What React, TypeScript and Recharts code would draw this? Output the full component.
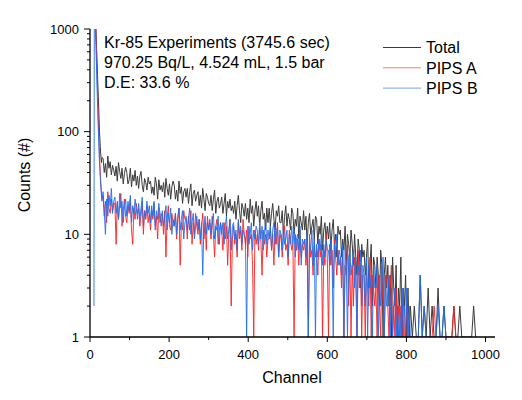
import { Line, LineChart, XAxis, YAxis } from "recharts";

// channel grid: single channels through the peak, every 3rd channel in the body, every 5th in the tail
const channels = [
    9, 10, 11, 12, 13, 14, 15, 16, 17, 18, 19, 20, 21, 22, 23, 24, 25, 26, 27, 28, 29, 30,
    33, 36, 39, 42, 45, 48, 51, 54, 57, 60,
    63, 66, 69, 72, 75, 78, 81, 84, 87, 90,
    93, 96, 99, 102, 105, 108, 111, 114, 117, 120,
    123, 126, 129, 132, 135, 138, 141, 144, 147, 150,
    153, 156, 159, 162, 165, 168, 171, 174, 177, 180,
    183, 186, 189, 192, 195, 198, 201, 204, 207, 210,
    213, 216, 219, 222, 225, 228, 231, 234, 237, 240,
    243, 246, 249, 252, 255, 258, 261, 264, 267, 270,
    273, 276, 279, 282, 285, 288, 291, 294, 297, 300,
    303, 306, 309, 312, 315, 318, 321, 324, 327, 330,
    333, 336, 339, 342, 345, 348, 351, 354, 357, 360,
    363, 366, 369, 372, 375, 378, 381, 384, 387, 390,
    393, 396, 399, 402, 405, 408, 411, 414, 417, 420,
    423, 426, 429, 432, 435, 438, 441, 444, 447, 450,
    453, 456, 459, 462, 465, 468, 471, 474, 477, 480,
    483, 486, 489, 492, 495, 498, 501, 504, 507, 510,
    513, 516, 519, 522, 525, 528, 531, 534, 537, 540,
    543, 546, 549, 552, 555, 558, 561, 564, 567, 570,
    573, 576, 579, 582, 585, 588, 591, 594, 597, 600,
    603, 606, 609, 612, 615, 618, 621, 624, 627, 630,
    633, 636, 639, 642, 645, 648, 651, 654, 657, 660,
    663, 666, 669, 672, 675, 678, 681, 684, 687, 690,
    693, 696, 699, 702, 705, 708, 711, 714, 717, 720,
    723, 726, 729, 732, 735, 738, 741, 744, 747, 750,
    753, 756, 759, 762, 765, 768, 771, 774, 777, 780,
    783, 786, 789, 792, 795, 798, 801, 804, 807, 810,
    815, 820, 825, 830, 835, 840, 845, 850, 855, 860,
    865, 870, 875, 880, 885, 890, 895, 900, 905, 910,
    915, 920, 925, 930, 935, 940, 945, 950, 955, 960,
    965, 970, 975, 980, 985, 990, 995, 1000, 1005, 1010,
    1015, 1020,
];

const total = [
    null, null, null, null, 3000, 1800, 1000, 780, 600, 470, 360, 280, 220, 170, 130, 100, 85, 72, 62, 55, 50, 56,
    55, 40, 49, 36, 58, 44, 51, 38, 47, 42,
    37, 46, 33, 50, 41, 35, 44, 31, 39, 45,
    40, 31, 34, 44, 29, 38, 33, 42, 30, 37,
    28, 37, 41, 30, 26, 35, 32, 27, 36, 31,
    33, 25, 29, 24, 36, 31, 22, 34, 27, 30,
    26, 32, 23, 35, 28, 24, 31, 22, 29, 33,
    30, 22, 27, 21, 33, 25, 29, 20, 26, 28,
    23, 28, 20, 26, 31, 19, 25, 27, 21, 24,
    26, 19, 24, 18, 28, 22, 17, 25, 23, 20,
    19, 24, 17, 22, 27, 16, 21, 23, 18, 20,
    23, 16, 20, 25, 15, 21, 18, 22, 17, 19,
    16, 21, 14, 19, 24, 17, 13, 20, 18, 15,
    20, 14, 18, 13, 22, 16, 19, 12, 17, 21,
    15, 19, 12, 17, 21, 14, 16, 11, 18, 13,
    18, 12, 16, 20, 14, 11, 17, 15, 19, 13,
    13, 17, 10, 15, 19, 12, 16, 14, 11, 18,
    16, 10, 14, 12, 18, 9, 15, 13, 11, 17,
    11, 15, 8, 13, 16, 10, 12, 14, 9, 15,
    14, 8, 12, 10, 15, 7, 11, 13, 9, 12,
    9, 13, 7, 11, 14, 8, 10, 6, 12, 10,
    11, 6, 9, 7, 12, 5, 10, 8, 6, 11,
    8, 5, 10, 6, 4, 9, 7, 3, 8, 6,
    7, 4, 6, 9, 3, 5, 8, 2, 6, 5,
    3, 6, 4, 2, 7, 5, 1, 4, 6, 3,
    5, 2, 4, 1, 6, 3, 2, 5, 1, 3,
    2, 6, 1, 3, 2, 4, 1, 3, 1, 2,
    1, 2, 1, 1, 4, 1, 2, 1, 3, 1,
    2, 1, 1, 3, 1, 1, 2, 1, 1, 1,
    1, 2, 1, 1, 2, 1, 1, 1, 1, 1,
    1, 2, 1, null, null, null, null, null, null, null,
    null, null,
];

const pipsA = [
    null, null, null, null, 2500, 1500, 900, 650, 470, 340, 250, 180, 135, 100, 78, 60, 48, 40, 34, 29, 25, 22,
    24, 15, 21, 13, 26, 18, 16, 22, 17, 20,
    20, 8, 21, 14, 19, 25, 12, 17, 22, 15,
    13, 19, 16, 22, 11, 8, 18, 14, 20, 16,
    18, 12, 15, 21, 10, 17, 14, 19, 13, 16,
    11, 17, 14, 20, 12, 15, 9, 18, 13, 16,
    15, 10, 17, 6, 14, 19, 12, 11, 16, 13,
    12, 16, 9, 14, 18, 5, 13, 11, 17, 14,
    14, 9, 15, 11, 17, 8, 13, 10, 16, 12,
    10, 14, 8, 12, 16, 9, 13, 7, 15, 11,
    13, 9, 15, 10, 6, 12, 14, 8, 11, 13,
    11, 7, 13, 9, 12, 5, 10, 14, 2, 9,
    12, 8, 10, 6, 13, 9, 11, 7, 14, 10,
    8, 11, 6, 12, 9, 10, 5, 1, 11, 8,
    10, 7, 12, 9, 4, 11, 8, 10, 6, 9,
    9, 12, 7, 10, 5, 11, 8, 13, 6, 9,
    10, 6, 9, 12, 7, 8, 5, 11, 9, 7,
    8, 1, 10, 7, 9, 5, 11, 6, 8, 7,
    9, 5, 8, 1, 10, 6, 7, 4, 9, 6,
    7, 4, 9, 6, 8, 1, 7, 5, 10, 6,
    1, 8, 5, 7, 3, 9, 6, 4, 7, 5,
    6, 3, 7, 1, 5, 4, 8, 2, 6, 1,
    5, 2, 6, 4, 1, 7, 3, 5, 1, 4,
    4, 1, 5, 3, 2, 6, 1, 4, 3, 2,
    3, 1, 4, 2, 1, 5, 2, 1, 3, 4,
    2, 1, 3, 5, 1, 2, 1, 3, 1, 2,
    1, 2, 1, 3, 1, 1, 2, 1, 1, 1,
    1, 1, 1, 1, 1, 1, 1, 1, 1, 1,
    1, 2, 1, 1, 1, 1, 1, 1, 1, 1,
    1, 2, 1, null, null, null, null, null, null, null,
    null, null, null, null, null, null, null, null, null, null,
    null, null,
];

const pipsB = [
    null, 2, 3000, 2200, 1500, 1000, 700, 500, 360, 260, 190, 140, 105, 80, 62, 50, 42, 36, 31, 27, 24, 21,
    26, 17, 10, 22, 15, 24, 19, 28, 16, 21,
    23, 16, 20, 14, 25, 18, 21, 13, 19, 22,
    15, 21, 17, 24, 13, 19, 16, 22, 18, 14,
    20, 14, 18, 23, 12, 17, 15, 21, 16, 19,
    13, 19, 15, 21, 11, 17, 14, 20, 16, 12,
    17, 12, 15, 19, 11, 16, 13, 18, 10, 14,
    12, 16, 10, 15, 18, 11, 14, 17, 9, 13,
    15, 11, 14, 18, 10, 13, 16, 9, 12, 15,
    11, 14, 9, 13, 4, 12, 15, 10, 13, 11,
    14, 10, 13, 16, 9, 12, 11, 15, 8, 13,
    10, 13, 8, 12, 15, 9, 11, 14, 7, 12,
    13, 9, 11, 7, 14, 10, 12, 8, 11, 10,
    9, 1, 12, 8, 10, 13, 7, 11, 9, 12,
    11, 8, 13, 9, 12, 7, 10, 14, 8, 11,
    9, 12, 7, 11, 13, 8, 10, 12, 6, 11,
    10, 7, 12, 8, 9, 11, 6, 10, 8, 12,
    8, 11, 6, 9, 10, 7, 12, 5, 9, 8,
    9, 6, 10, 1, 8, 7, 11, 5, 9, 1,
    8, 6, 9, 7, 10, 5, 8, 6, 9, 7,
    7, 5, 9, 6, 1, 8, 6, 10, 5, 7,
    6, 4, 8, 1, 7, 5, 1, 6, 7, 4,
    5, 7, 3, 6, 1, 5, 4, 7, 2, 5,
    4, 2, 6, 1, 5, 3, 4, 1, 5, 3,
    3, 5, 1, 4, 2, 3, 6, 1, 4, 2,
    2, 4, 1, 3, 1, 2, 3, 1, 2, 1,
    2, 1, 3, 1, 2, 1, 3, 1, 2, 1,
    1, 1, 1, 1, 4, 1, 2, 1, 1, 1,
    1, 1, 1, 2, 1, 1, 2, 1, null, null,
    null, null, null, null, null, null, null, null, null, null,
    null, null, null, null, null, null, null, null, null, null,
    null, null,
];

const xTicks = [0, 100, 200, 300, 400, 500, 600, 700, 800, 900, 1000];
const yTicks = [
    1, 2, 3, 4, 5, 6, 7, 8, 9, 10, 20, 30, 40, 50, 60, 70, 80, 90, 100,
    200, 300, 400, 500, 600, 700, 800, 900, 1000,
];
const topTicks = [102.4, 204.8, 307.2, 409.6, 512, 614.4, 716.8, 819.2, 921.6];
const rightTicks = [2, 4, 8, 16, 32, 64, 128, 256, 512];

const notes = ["Kr-85 Experiments (3745.6 sec)", "970.25 Bq/L, 4.524 mL, 1.5 bar", "D.E: 33.6 %"];
const legendItems = [
    { name: "Total", color: "#3a3a3a" },
    { name: "PIPS A", color: "#ef7f7f" },
    { name: "PIPS B", color: "#6fa8d8" },
];

const data = channels.map((ch, i) => ({ ch, total: total[i], pipsA: pipsA[i], pipsB: pipsB[i] }));

const FONT = '"Liberation Sans", Arial, sans-serif';

function LeftTick(props: any) {
    const { x, y, payload } = props;
    const major = [1, 10, 100, 1000].includes(payload.value);
    return (
        <g>
            <line x1={x - (major ? 6 : 3)} x2={x} y1={y} y2={y} stroke="#000" strokeWidth={1} />
            {major && (
                <text x={x - 11} y={y + 4.5} textAnchor="end" fontSize={13} fill="#000" fontFamily={FONT}>
                    {payload.value}
                </text>
            )}
        </g>
    );
}

function BottomTick(props: any) {
    const { x, y, payload } = props;
    const major = payload.value % 200 === 0;
    return (
        <g>
            <line x1={x} x2={x} y1={y} y2={y + (major ? 5 : 3)} stroke="#000" strokeWidth={1} />
            {major && (
                <text x={x} y={y + 22} textAnchor="middle" fontSize={13} fill="#000" fontFamily={FONT}>
                    {payload.value}
                </text>
            )}
        </g>
    );
}

// inward tick marks on the mirrored top and right axes
function TopTick(props: any) {
    const { x, y } = props;
    return <line x1={x} x2={x} y1={y} y2={y + 4} stroke="#000" strokeWidth={1} />;
}

function RightTick(props: any) {
    const { x, y } = props;
    return <line x1={x - 4} x2={x} y1={y} y2={y} stroke="#000" strokeWidth={1} />;
}

export default function App() {
    return (
        <div style={{ position: "absolute", left: 0, top: 0, width: 522, height: 400, background: "#fff", fontFamily: FONT }}>
            <LineChart width={522} height={400} data={data} margin={{ top: 29, right: 27, left: 30, bottom: 33 }}>
                <XAxis
                    dataKey="ch"
                    type="number"
                    domain={[0, 1024]}
                    allowDataOverflow
                    ticks={xTicks}
                    height={30}
                    tickSize={0}
                    tickMargin={0}
                    tick={<BottomTick />}
                    axisLine={{ stroke: "#000", strokeWidth: 1.3 }}
                    tickLine={false}
                />
                <XAxis
                    xAxisId="top"
                    orientation="top"
                    dataKey="ch"
                    type="number"
                    domain={[0, 1024]}
                    allowDataOverflow
                    ticks={topTicks}
                    interval={0}
                    height={0}
                    mirror
                    tickSize={0}
                    tickMargin={0}
                    tick={<TopTick />}
                    tickLine={false}
                    axisLine={{ stroke: "#000", strokeWidth: 1.3 }}
                />
                <YAxis
                    scale="log"
                    type="number"
                    domain={[1, 1000]}
                    allowDataOverflow
                    ticks={yTicks}
                    interval={0}
                    width={60}
                    tickSize={0}
                    tickMargin={0}
                    tick={<LeftTick />}
                    axisLine={{ stroke: "#000", strokeWidth: 1.3 }}
                    tickLine={false}
                />
                <YAxis
                    yAxisId="r"
                    orientation="right"
                    scale="log"
                    type="number"
                    domain={[1, 1000]}
                    allowDataOverflow
                    ticks={rightTicks}
                    interval={0}
                    width={0}
                    mirror
                    tickSize={0}
                    tickMargin={0}
                    tick={<RightTick />}
                    tickLine={false}
                    axisLine={{ stroke: "#000", strokeWidth: 1.3 }}
                />
                <Line dataKey="total" xAxisId="top" yAxisId="r" stroke="transparent" dot={false} legendType="none" isAnimationActive={false} />
                <Line type="linear" dataKey="total" stroke="#3a3a3a" strokeWidth={1} dot={false} isAnimationActive={false} />
                <Line type="linear" dataKey="pipsA" stroke="#ff1f1f" strokeWidth={1} strokeOpacity={0.9} dot={false} isAnimationActive={false} />
                <Line type="linear" dataKey="pipsB" stroke="#1f6fef" strokeWidth={1} strokeOpacity={0.9} dot={false} isAnimationActive={false} />
            </LineChart>
            <svg width={522} height={400} style={{ position: "absolute", left: 0, top: 0, pointerEvents: "none" }} fontFamily={FONT}>
                {notes.map((t, i) => (
                    <text key={t} x={104} y={48 + i * 20} fontSize={16} fill="#000">
                        {t}
                    </text>
                ))}
                {legendItems.map((item, i) => (
                    <g key={item.name}>
                        <line x1={383} x2={421} y1={47.5 + i * 20.3} y2={47.5 + i * 20.3} stroke={item.color} strokeWidth={1} />
                        <text x={426} y={53 + i * 20.5} fontSize={16} fill="#000">
                            {item.name}
                        </text>
                    </g>
                ))}
                <text x={292} y={383} textAnchor="middle" fontSize={16} fill="#000">
                    Channel
                </text>
                <text x={30} y={175} textAnchor="middle" fontSize={16} fill="#000" transform="rotate(-90 30 175)">
                    Counts (#)
                </text>
            </svg>
        </div>
    );
}
